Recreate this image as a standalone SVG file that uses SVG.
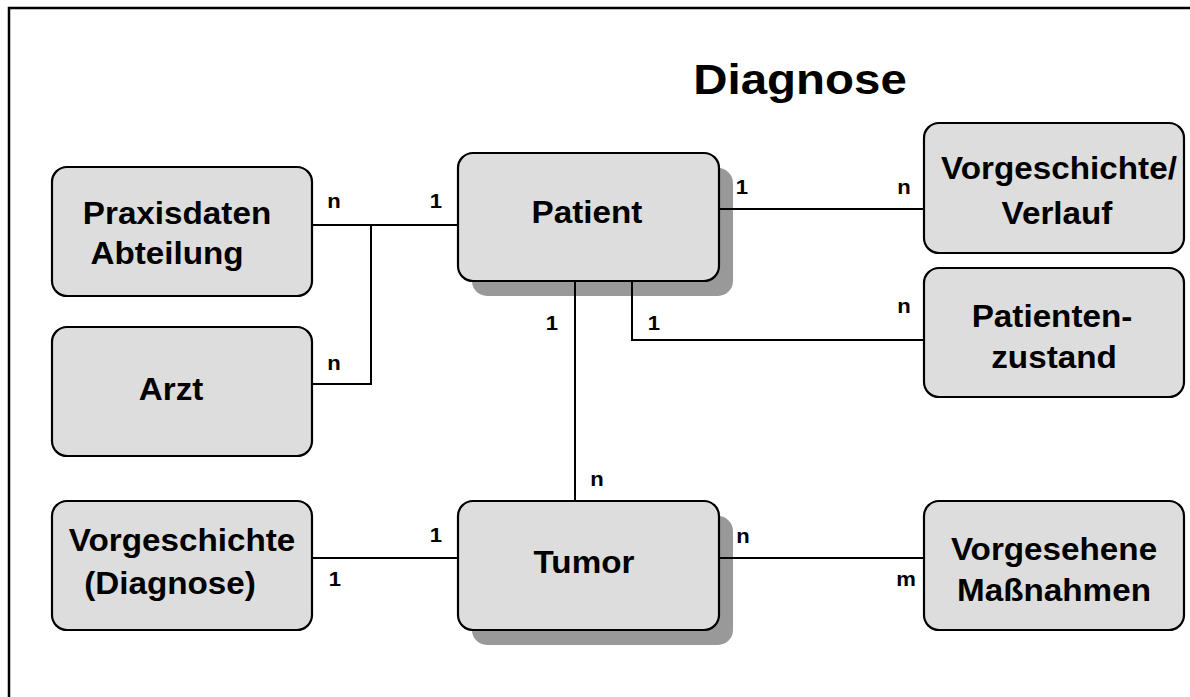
<svg xmlns="http://www.w3.org/2000/svg" width="1190" height="697" viewBox="0 0 1190 697">
<style>
.box{fill:#dddddd;stroke:#000;stroke-width:2.2}
.shadow{fill:#999999;stroke:none}
.t{font-family:"Liberation Sans",Arial,sans-serif;font-weight:bold;font-size:30.5px;text-anchor:middle;fill:#000}
.l{font-family:"Liberation Sans",Arial,sans-serif;font-weight:bold;font-size:21px;text-anchor:middle;fill:#000}
.c{fill:none;stroke:#000;stroke-width:2}
</style>
<rect x="0" y="0" width="1190" height="697" fill="#fff"/>
<rect x="9" y="8" width="1200" height="720" fill="none" stroke="#000" stroke-width="2.5"/>
<text class="t" style="font-size:42px" transform="translate(800,94) scale(1.13,1)">Diagnose</text>

<g id="patient">
<rect class="shadow" x="472" y="168" width="261" height="128" rx="15"/>
<rect class="box" x="458" y="153" width="261" height="128" rx="15"/>
<text class="t" transform="translate(587,223) scale(1.09,1)">Patient</text>
</g>
<g id="tumor">
<rect class="shadow" x="472" y="516" width="261" height="129" rx="15"/>
<rect class="box" x="458" y="501" width="261" height="129" rx="15"/>
<text class="t" transform="translate(584,573) scale(1.09,1)">Tumor</text>
</g>
<g id="praxisdaten">
<rect class="box" x="52" y="167" width="260" height="129" rx="15"/>
<text class="t" transform="translate(177,224) scale(1.09,1)">Praxisdaten</text>
<text class="t" transform="translate(167,264) scale(1.09,1)">Abteilung</text>
</g>
<g id="arzt">
<rect class="box" x="52" y="327" width="260" height="129" rx="15"/>
<text class="t" transform="translate(171,400) scale(1.09,1)">Arzt</text>
</g>
<g id="vorgeschichte-verlauf">
<rect class="box" x="924" y="123" width="260" height="130" rx="15"/>
<text class="t" transform="translate(1059,179) scale(1.09,1)">Vorgeschichte/</text>
<text class="t" transform="translate(1057,224) scale(1.09,1)">Verlauf</text>
</g>
<g id="patientenzustand">
<rect class="box" x="924" y="268" width="260" height="129" rx="15"/>
<text class="t" transform="translate(1052,327) scale(1.09,1)">Patienten-</text>
<text class="t" transform="translate(1054,368) scale(1.09,1)">zustand</text>
</g>
<g id="vorgeschichte-diagnose">
<rect class="box" x="52" y="501" width="260" height="129" rx="15"/>
<text class="t" transform="translate(182,551) scale(1.09,1)">Vorgeschichte</text>
<text class="t" transform="translate(170,594) scale(1.09,1)">(Diagnose)</text>
</g>
<g id="massnahmen">
<rect class="box" x="924" y="501" width="260" height="129" rx="15"/>
<text class="t" transform="translate(1054,560) scale(1.09,1)">Vorgesehene</text>
<text class="t" transform="translate(1054,601) scale(1.09,1)">Maßnahmen</text>
</g>

<g id="connectors">
<path class="c" d="M312,225 H458"/>
<path class="c" d="M371,225 V384 H312"/>
<path class="c" d="M719,209 H924"/>
<path class="c" d="M632,282 V340 H924"/>
<path class="c" d="M575,282 V501"/>
<path class="c" d="M312,558 H458"/>
<path class="c" d="M719,558 H924"/>
</g>

<g id="labels">
<text class="l" transform="translate(334,208) scale(1.05,1)">n</text>
<text class="l" transform="translate(436,208) scale(1.05,1)">1</text>
<text class="l" transform="translate(334,370) scale(1.05,1)">n</text>
<text class="l" transform="translate(742,194) scale(1.05,1)">1</text>
<text class="l" transform="translate(904,194) scale(1.05,1)">n</text>
<text class="l" transform="translate(904,313) scale(1.05,1)">n</text>
<text class="l" transform="translate(552,330) scale(1.05,1)">1</text>
<text class="l" transform="translate(654,330) scale(1.05,1)">1</text>
<text class="l" transform="translate(597,486) scale(1.05,1)">n</text>
<text class="l" transform="translate(436,542) scale(1.05,1)">1</text>
<text class="l" transform="translate(743,543) scale(1.05,1)">n</text>
<text class="l" transform="translate(335,586) scale(1.05,1)">1</text>
<text class="l" transform="translate(906,586) scale(1.05,1)">m</text>
</g>
</svg>
